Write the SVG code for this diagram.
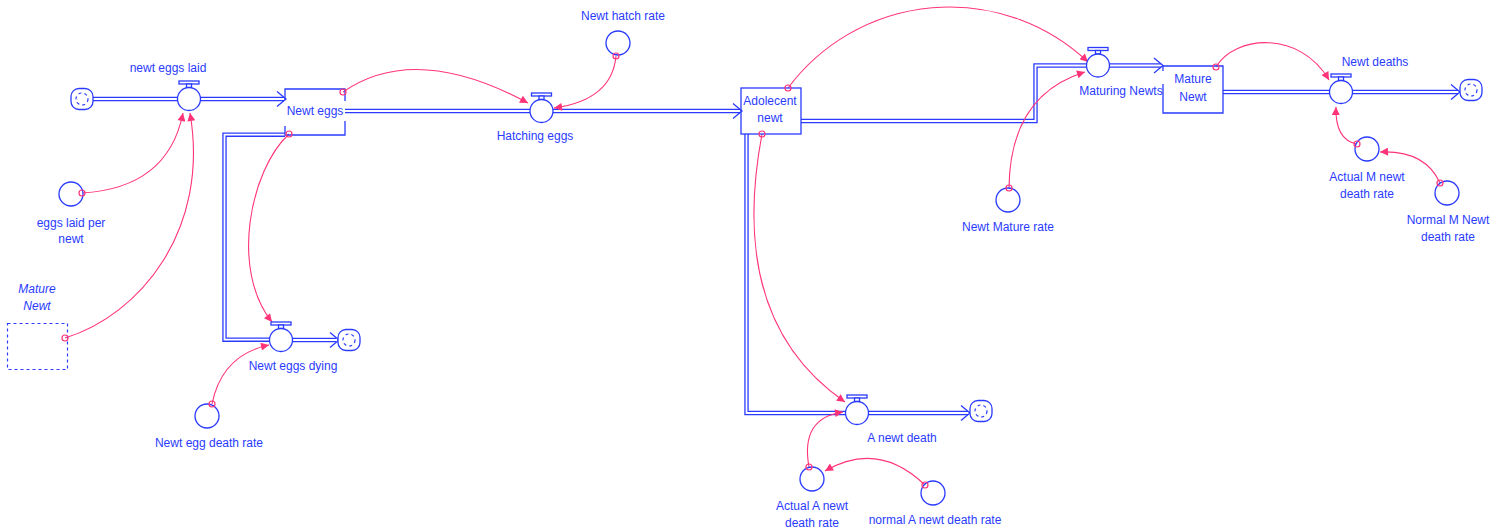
<svg xmlns="http://www.w3.org/2000/svg" xmlns:xlink="http://www.w3.org/1999/xlink" width="1502" height="529" viewBox="0 0 1502 529">
<style>
.b{fill:#fff;stroke:#2a3bff;stroke-width:1.3}
.bn{fill:none;stroke:#2a3bff;stroke-width:1.3}
.pipe{fill:none;stroke:#2a3bff;stroke-width:4.4}
.pin{fill:none;stroke:#fff;stroke-width:1.8}
.chev{fill:none;stroke:#2a3bff;stroke-width:1.3}
.lnk{fill:none;stroke:#ff3377;stroke-width:1.1;marker-end:url(#ah)}
.org{fill:none;stroke:#ff3377;stroke-width:1.2}
.sh{fill:none;stroke:#2a3bff;stroke-width:1.2;stroke-dasharray:3 3}
text{font-family:"Liberation Sans",Arial,sans-serif;font-size:12px;fill:#2a3bff;text-anchor:middle}
.it{font-style:italic}
</style>
<defs>
<marker id="ah" viewBox="0 0 10 10" refX="10" refY="5" markerWidth="9" markerHeight="8" markerUnits="userSpaceOnUse" orient="auto">
<path d="M0,0 L10,5 L0,10 z" fill="#ff3377"/>
</marker>
<g id="valve">
<rect x="-10" y="-18" width="20" height="3" class="b"/>
<rect x="-2.5" y="-15" width="5" height="3.5" class="b"/>
<circle r="11.5" class="b"/>
</g>
<g id="cloud">
<rect x="-11" y="-10.5" width="22" height="21" rx="8" class="b" stroke-width="1.6"/>
<circle r="6" fill="none" stroke="#2a3bff" stroke-width="1.2" stroke-dasharray="3 3"/>
</g>
<g id="aux"><circle r="12" class="b"/></g>
</defs>

<g id="connectors">
<g id="flows">
<path class="pipe" d="M92,99 H178 M200,99 H284"/>
<path class="pin" d="M92,99 H178 M200,99 H284"/>
<path class="pipe" d="M345,111 H530 M553,111 H740"/>
<path class="pin" d="M345,111 H530 M553,111 H740"/>
<path class="pipe" d="M285,134.7 H224.5 V339.7 H270 M292,340 H336"/>
<path class="pin" d="M285,134.7 H224.5 V339.7 H270 M292,340 H336"/>
<path class="pipe" d="M801,121 H1035.5 V65.5 H1087 M1109,65.5 H1161"/>
<path class="pin" d="M801,121 H1035.5 V65.5 H1087 M1109,65.5 H1161"/>
<path class="pipe" d="M1223,92 H1330 M1352,92 H1458"/>
<path class="pin" d="M1223,92 H1330 M1352,92 H1458"/>
<path class="pipe" d="M746.5,134 V413 H846 M868,413 H968"/>
<path class="pin" d="M746.5,134 V413 H846 M868,413 H968"/>
<path class="chev" d="M277,91.5 L286,99 L277,106.5"/>
<path class="chev" d="M733,103.5 L742,111 L733,118.5"/>
<path class="chev" d="M330,332.5 L339,340 L330,347.5"/>
<path class="chev" d="M1154,58 L1163,65.5 L1154,73"/>
<path class="chev" d="M1451,84.5 L1460,92 L1451,99.5"/>
<path class="chev" d="M961,405.5 L970,413 L961,420.5"/>
</g>
<g id="links">
<path class="lnk" d="M82,193 Q168,188 183,113"/>
<path class="lnk" d="M65,338 C140,315 210,230 190,113"/>
<path class="lnk" d="M343,92 Q415,42 528,103"/>
<path class="lnk" d="M616,56 Q612,100 554,108"/>
<path class="lnk" d="M289,134 C250,170 230,270 272,322"/>
<path class="lnk" d="M212,404 Q222,355 269,345"/>
<path class="lnk" d="M788,88 A201.6,201.6 0 0 1 1088,62"/>
<path class="lnk" d="M1009,188 Q1010,95 1085,72"/>
<path class="lnk" d="M762,134 C742,240 755,340 845,402"/>
<path class="lnk" d="M809,467 Q800,418 843,412"/>
<path class="lnk" d="M925,485 Q878,440 825,471"/>
<path class="lnk" d="M1216,67 C1235,35 1300,30 1329,80"/>
<path class="lnk" d="M1357,144 Q1335,140 1336,107"/>
<path class="lnk" d="M1440,183 Q1425,150 1380,152"/>
</g>
</g>

<g id="cloud-source"><use xlink:href="#cloud" x="82" y="99"/></g>
<g id="cloud-eggs-sink"><use xlink:href="#cloud" x="349" y="340"/></g>
<g id="cloud-adult-sink"><use xlink:href="#cloud" x="1471" y="90"/></g>
<g id="cloud-adol-sink"><use xlink:href="#cloud" x="981" y="411"/></g>

<g id="newt-eggs-laid"><use xlink:href="#valve" x="189" y="99"/><text x="168" y="72">newt eggs laid</text></g>
<g id="newt-eggs"><path class="bn" d="M285,100 V89 H345 V101 M345,121 V135 H285 V126"/><text x="315" y="115">Newt eggs</text></g>
<g id="hatching-eggs"><use xlink:href="#valve" x="541.5" y="111"/><text x="535" y="140">Hatching eggs</text></g>
<g id="newt-hatch-rate"><use xlink:href="#aux" x="618" y="43"/><text x="623" y="20">Newt hatch rate</text></g>
<g id="adolecent-newt"><rect x="741" y="88" width="60" height="46" class="bn"/><text x="770" y="105">Adolecent</text><text x="770" y="122">newt</text></g>
<g id="maturing-newts"><use xlink:href="#valve" x="1098" y="65.5"/><text x="1121" y="95">Maturing Newts</text></g>
<g id="mature-newt"><path class="bn" d="M1163,71 V66 H1223 V113 H1163 V84"/><text x="1193" y="83">Mature</text><text x="1193" y="101">Newt</text></g>
<g id="newt-deaths"><use xlink:href="#valve" x="1341" y="92"/><text x="1375" y="66">Newt deaths</text></g>
<g id="eggs-laid-per-newt"><use xlink:href="#aux" x="71" y="194"/><text x="71" y="227">eggs laid per</text><text x="71" y="243">newt</text></g>
<g id="mature-newt-shadow"><rect x="7.5" y="323.5" width="60" height="46" class="sh"/><text class="it" x="37" y="293">Mature</text><text class="it" x="37" y="310">Newt</text></g>
<g id="newt-eggs-dying"><use xlink:href="#valve" x="281" y="340"/><text x="293" y="370">Newt eggs dying</text></g>
<g id="newt-egg-death-rate"><use xlink:href="#aux" x="207" y="416"/><text x="209" y="447">Newt egg death rate</text></g>
<g id="newt-mature-rate"><use xlink:href="#aux" x="1008" y="200"/><text x="1008" y="231">Newt Mature rate</text></g>
<g id="actual-m-newt-death-rate"><use xlink:href="#aux" x="1367" y="149"/><text x="1367" y="181">Actual M newt</text><text x="1367" y="198">death rate</text></g>
<g id="normal-m-newt-death-rate"><use xlink:href="#aux" x="1447" y="193"/><text x="1448" y="224">Normal M Newt</text><text x="1448" y="241">death rate</text></g>
<g id="a-newt-death"><use xlink:href="#valve" x="857" y="413"/><text x="902" y="442">A newt death</text></g>
<g id="actual-a-newt-death-rate"><use xlink:href="#aux" x="812" y="479"/><text x="812" y="510">Actual A newt</text><text x="812" y="527">death rate</text></g>
<g id="normal-a-newt-death-rate"><use xlink:href="#aux" x="933" y="493"/><text x="935" y="524">normal A newt death rate</text></g>

<g id="link-origins">
<circle class="org" cx="82" cy="193" r="3"/>
<circle class="org" cx="65" cy="338" r="3"/>
<circle class="org" cx="343" cy="92" r="3"/>
<circle class="org" cx="616" cy="56" r="3"/>
<circle class="org" cx="289" cy="134" r="3"/>
<circle class="org" cx="212" cy="404" r="3"/>
<circle class="org" cx="788" cy="88" r="3"/>
<circle class="org" cx="1009" cy="188" r="3"/>
<circle class="org" cx="762" cy="134" r="3"/>
<circle class="org" cx="809" cy="467" r="3"/>
<circle class="org" cx="925" cy="485" r="3"/>
<circle class="org" cx="1216" cy="67" r="3"/>
<circle class="org" cx="1357" cy="144" r="3"/>
<circle class="org" cx="1440" cy="183" r="3"/>
</g>
</svg>
